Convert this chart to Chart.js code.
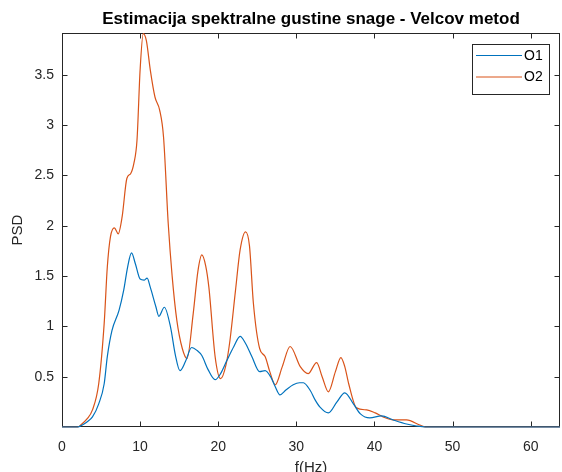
<!DOCTYPE html>
<html><head><meta charset="utf-8">
<script src="https://cdn.jsdelivr.net/npm/chart.js@4.4.0/dist/chart.umd.min.js"></script>
<style>html,body{margin:0;padding:0;overflow:hidden;background:#fff}</style>
</head><body>
<canvas id="c" width="562" height="480" style="display:block"></canvas>
<script>
const chartTitle = 'Estimacija spektralne gustine snage - Velcov metod';
const xLabel = 'f(Hz)';
const yLabel = 'PSD';
const seriesNames = ['O1', 'O2'];
const xTicks = [0, 10, 20, 30, 40, 50, 60];
const yTicks = [0.5, 1, 1.5, 2, 2.5, 3, 3.5];

const freqO1 = [0, 1, 2, 2.6, 3.2, 3.9, 4.7, 5.4, 5.8, 6.4, 7.3, 7.9, 8.4, 8.9, 9.4, 10.0, 10.5, 10.9, 11.3, 12.0, 12.4, 13.1, 13.9, 14.5, 15.1, 15.8, 16.6, 17.3, 17.9, 18.7, 19.6, 20.3, 21.1, 22.0, 22.8, 23.5, 24.3, 25.3, 26.0, 26.7, 27.3, 27.9, 28.7, 29.6, 30.4, 30.9, 31.8, 32.4, 33.0, 34.1, 35.2, 36.2, 37.3, 38.2, 39.4, 40.9, 42.4, 44.1, 45.4, 46.5, 50, 55, 60, 63.75];
const psdO1 = [0, 0, 0, 0.02, 0.05, 0.10, 0.23, 0.43, 0.70, 0.96, 1.16, 1.36, 1.59, 1.73, 1.62, 1.47, 1.46, 1.48, 1.39, 1.20, 1.10, 1.19, 0.99, 0.72, 0.56, 0.65, 0.79, 0.76, 0.71, 0.57, 0.47, 0.53, 0.66, 0.80, 0.90, 0.83, 0.70, 0.55, 0.56, 0.50, 0.40, 0.32, 0.37, 0.42, 0.44, 0.44, 0.36, 0.27, 0.20, 0.14, 0.25, 0.34, 0.23, 0.13, 0.09, 0.11, 0.07, 0.03, 0.01, 0, 0, 0, 0, 0];

const freqO2 = [0, 1, 2, 2.4, 3.2, 3.9, 4.7, 5.4, 5.8, 6.2, 6.7, 7.2, 7.7, 8.3, 8.8, 9.2, 9.6, 10.0, 10.4, 10.8, 11.3, 11.9, 12.5, 13.0, 13.6, 14.1, 14.7, 15.4, 16.0, 16.8, 17.4, 17.9, 18.4, 18.8, 19.6, 20.3, 21.0, 21.5, 22.2, 22.8, 23.5, 24.0, 24.5, 25.3, 26.0, 26.6, 27.3, 28.2, 29.2, 30.5, 31.5, 32.6, 33.3, 34.1, 35.0, 35.7, 36.2, 36.7, 37.7, 39.0, 40.1, 41.1, 42.4, 44.1, 45.8, 46.5, 50, 55, 60, 63.75];
const psdO2 = [0, 0, 0, 0.02, 0.08, 0.17, 0.43, 1.03, 1.59, 1.89, 1.98, 1.92, 2.09, 2.47, 2.52, 2.62, 2.85, 3.55, 3.91, 3.84, 3.55, 3.28, 3.15, 2.88, 2.02, 1.50, 1.06, 0.78, 0.68, 1.13, 1.55, 1.71, 1.60, 1.39, 0.70, 0.48, 0.62, 0.86, 1.35, 1.76, 1.94, 1.80, 1.23, 0.78, 0.70, 0.55, 0.42, 0.60, 0.80, 0.60, 0.53, 0.64, 0.50, 0.35, 0.55, 0.69, 0.60, 0.43, 0.19, 0.17, 0.14, 0.10, 0.07, 0.07, 0.02, 0, 0, 0, 0, 0];

const X_MAX = 63.75, Y_MAX = 3.916;
const FONT = '"Liberation Sans", Arial, Helvetica, sans-serif';
const AX = '#262626';

const toPts = (xs, ys) => xs.map((x, i) => ({x, y: ys[i]}));

const boxPlugin = {
  id: 'matlabBox',
  beforeDatasetsDraw(chart) {
    const {ctx, chartArea: a, scales} = chart;
    ctx.save();
    ctx.strokeStyle = AX; ctx.lineWidth = 1;
    const L = Math.round(a.left) + 0.5, R = Math.round(a.right) - 0.5;
    const T = Math.round(a.top) + 0.5, B = Math.round(a.bottom) - 0.5;
    ctx.strokeRect(L, T, R - L, B - T);
    const tl = 5;
    ctx.beginPath();
    xTicks.forEach(v => {
      const px = Math.round(scales.x.getPixelForValue(v)) + 0.5;
      ctx.moveTo(px, B); ctx.lineTo(px, B - tl);
      ctx.moveTo(px, T); ctx.lineTo(px, T + tl);
    });
    yTicks.forEach(v => {
      const py = Math.round(scales.y.getPixelForValue(v)) + 0.5;
      ctx.moveTo(L, py); ctx.lineTo(L + tl, py);
      ctx.moveTo(R, py); ctx.lineTo(R - tl, py);
    });
    ctx.stroke();
    ctx.restore();
  },
  afterDraw(chart) {
    const {ctx} = chart;
    ctx.save();
    const lx = 472.5, ly = 44.5, lw = 77, lh = 50;
    ctx.fillStyle = '#fff';
    ctx.fillRect(lx, ly, lw, lh);
    ctx.strokeStyle = AX; ctx.lineWidth = 1;
    ctx.strokeRect(lx, ly, lw, lh);
    ctx.font = '14px ' + FONT;
    ctx.textBaseline = 'middle';
    ctx.textAlign = 'left';
    chart.data.datasets.forEach((ds, i) => {
      const y = 55.5 + i * 21.5;
      ctx.strokeStyle = ds.borderColor; ctx.lineWidth = 1;
      ctx.beginPath(); ctx.moveTo(476, y); ctx.lineTo(522, y); ctx.stroke();
      ctx.fillStyle = '#000';
      ctx.fillText(ds.label, 524, y + 0.5);
    });
    ctx.restore();
  }
};

new Chart(document.getElementById('c'), {
  type: 'line',
  data: {
    datasets: [
      {label: seriesNames[0], data: toPts(freqO1, psdO1), borderColor: '#0072BD', borderWidth: 1.2, pointRadius: 0, cubicInterpolationMode: 'monotone', fill: false, clip: 3},
      {label: seriesNames[1], data: toPts(freqO2, psdO2), borderColor: '#D95319', borderWidth: 1.2, pointRadius: 0, cubicInterpolationMode: 'monotone', fill: false, clip: 3}
    ]
  },
  options: {
    responsive: false,
    animation: false,
    events: [],
    layout: {padding: {left: 0, right: 2, top: 0, bottom: 0}},
    plugins: {
      legend: {display: false},
      tooltip: {enabled: false},
      title: {display: true, text: chartTitle, fullSize: false, color: '#000',
        font: {family: FONT, size: 17, weight: 'bold', lineHeight: 1.2}, padding: {top: 9.5, bottom: 3.1}}
    },
    scales: {
      x: {
        type: 'linear', min: 0, max: X_MAX,
        grid: {display: false, drawTicks: false}, border: {display: false},
        afterBuildTicks: s => { s.ticks = xTicks.map(v => ({value: v})); },
        afterFit: s => { s.height = 53; },
        ticks: {color: AX, font: {family: FONT, size: 14}, padding: 12, maxRotation: 0, autoSkip: false, callback: v => String(v)},
        title: {display: true, text: xLabel, color: AX, font: {family: FONT, size: 15}, padding: {top: 0, bottom: 3}}
      },
      y: {
        type: 'linear', min: 0, max: Y_MAX,
        grid: {display: false, drawTicks: false}, border: {display: false},
        afterBuildTicks: s => { s.ticks = yTicks.map(v => ({value: v})); },
        afterFit: s => { s.width = 62; },
        ticks: {color: AX, font: {family: FONT, size: 14}, padding: 8, autoSkip: false, callback: v => String(v)},
        title: {display: true, text: yLabel, color: AX, font: {family: FONT, size: 15}, padding: {top: 9, bottom: 0}}
      }
    }
  },
  plugins: [boxPlugin]
});
</script>
</body></html>
